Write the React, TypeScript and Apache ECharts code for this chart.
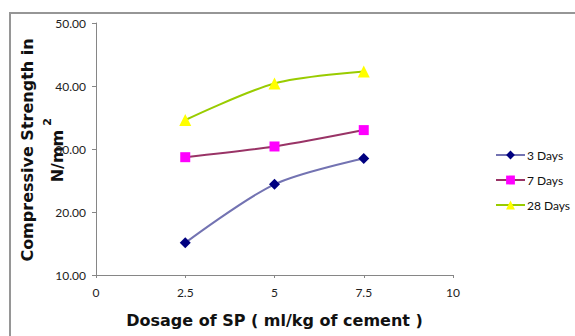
import React, { useEffect, useRef } from "react";
import * as echarts from "echarts";

const dosage = [2.5, 5, 7.5];
const days3 = [15.1, 24.4, 28.5];
const days7 = [28.7, 30.4, 33.0];
const days28 = [34.6, 40.4, 42.3];
const seriesNames = ["3 Days", "7 Days", "28 Days"];
const xTitle = "Dosage of SP ( ml/kg of cement )";
const yTitle1 = "Compressive Strength in";
const yTitle2 = "N/mm";

const FONT = "Lato, 'Open Sans', sans-serif";
const TFONT = "'DejaVu Sans', sans-serif";

export default function App() {
  const ref = useRef<HTMLDivElement>(null);
  useEffect(() => {
    if (!ref.current) return;
    const chart = echarts.init(ref.current, null, { renderer: "svg" });
    const pair = (ys: number[]) => dosage.map((x, i) => [x, ys[i]]);
    chart.setOption({
      animation: false,
      backgroundColor: "#ffffff",
      grid: { left: 96, right: 122, top: 23, bottom: 61 },
      xAxis: {
        type: "value",
        min: 0,
        max: 10,
        interval: 2.5,
        axisLine: { show: true, lineStyle: { color: "#868686", width: 1 } },
        axisTick: { show: true, length: 3, lineStyle: { color: "#868686" } },
        splitLine: { show: false },
        axisLabel: { color: "#222", fontSize: 12, fontFamily: FONT, margin: 11 },
        name: xTitle,
        nameLocation: "middle",
        nameGap: 37,
        nameTextStyle: { color: "#111", fontSize: 16, fontWeight: "bold", fontFamily: TFONT },
      },
      yAxis: {
        type: "value",
        min: 10,
        max: 50,
        interval: 10,
        axisLine: { show: true, lineStyle: { color: "#868686", width: 1 } },
        axisTick: { show: true, length: 4, lineStyle: { color: "#868686" } },
        splitLine: { show: false },
        axisLabel: {
          color: "#222",
          fontSize: 12,
          fontFamily: FONT,
          margin: 10,
          formatter: (v: number) => v.toFixed(2),
        },
      },
      legend: {
        orient: "vertical",
        left: 490,
        top: 144,
        itemWidth: 29,
        itemHeight: 11,
        itemGap: 13,
        textStyle: { color: "#111", fontSize: 12, fontFamily: FONT, padding: [0, 0, 0, -3] },
        data: seriesNames,
      },
      graphic: [
        {
          type: "rect",
          shape: { x: 10, y: 13, width: 700, height: 400 },
          style: { fill: "none", stroke: "#969696", lineWidth: 2 },
          silent: true,
        },
        {
          type: "text",
          x: 27,
          y: 150,
          rotation: Math.PI / 2,
          style: {
            text: yTitle1,
            fill: "#111",
            font: `bold 16px ${TFONT}`,
            align: "center",
            verticalAlign: "middle",
          },
        },
        {
          type: "text",
          x: 57,
          y: 156,
          rotation: Math.PI / 2,
          style: {
            text: yTitle2,
            fill: "#111",
            font: `bold 16px ${TFONT}`,
            align: "center",
            verticalAlign: "middle",
          },
        },
        {
          type: "text",
          x: 47,
          y: 122,
          rotation: Math.PI / 2,
          style: {
            text: "2",
            fill: "#111",
            font: `bold 11px ${TFONT}`,
            align: "center",
            verticalAlign: "middle",
          },
        },
      ],
      series: [
        {
          name: seriesNames[0],
          type: "line",
          smooth: 0.3,
          data: pair(days3),
          symbol: "diamond",
          symbolSize: 11,
          lineStyle: { color: "#7373B2", width: 2 },
          itemStyle: { color: "#000080" },
        },
        {
          name: seriesNames[1],
          type: "line",
          smooth: 0.3,
          data: pair(days7),
          symbol: "rect",
          symbolSize: 10,
          lineStyle: { color: "#993366", width: 2 },
          itemStyle: { color: "#FF00FF" },
        },
        {
          name: seriesNames[2],
          type: "line",
          smooth: 0.3,
          data: pair(days28),
          symbol: "triangle",
          symbolSize: 12,
          lineStyle: { color: "#99CC00", width: 2 },
          itemStyle: { color: "#FFFF00" },
        },
      ],
    });
    return () => chart.dispose();
  }, []);
  return (
    <div
      ref={ref}
      style={{ position: "fixed", left: 0, top: 0, width: 575, height: 336 }}
    />
  );
}
